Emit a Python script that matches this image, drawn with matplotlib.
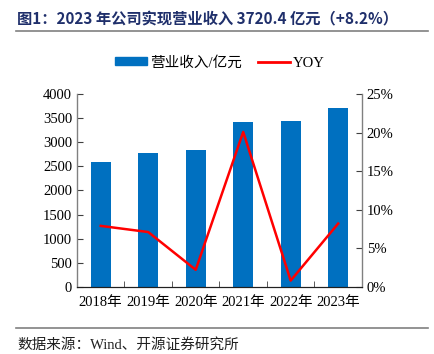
import matplotlib
matplotlib.use("Agg")
import matplotlib.pyplot as plt
from matplotlib.lines import Line2D

years = ["2018年", "2019年", "2020年", "2021年", "2022年", "2023年"]
revenue = [2596.6, 2782.2, 2842.2, 3412.3, 3439.2, 3720.4]
yoy = [7.9, 7.1, 2.2, 20.1, 0.8, 8.2]

SERIF = ["Liberation Serif", "Noto Sans CJK SC"]
CJK = ["Noto Sans CJK SC", "DejaVu Sans"]
BLUE = "#0070C0"
NAVY = "#1F2F6B"

fig = plt.figure(figsize=(4.35, 3.54), dpi=100)
ax = fig.add_axes([0.177, 0.190, 0.655, 0.544])
ax2 = ax.twinx()

x = range(len(years))
ax.bar(x, revenue, width=0.42, color=BLUE, zorder=2)
ax2.plot(x, yoy, color="#FF0000", lw=1.8, zorder=3)

ax.set_xlim(-0.5, 5.5)
ax.set_ylim(0, 4000)
ax.set_yticks(range(0, 4001, 500))
ax2.set_ylim(0, 25)
ax2.set_yticks(range(0, 26, 5))
ax2.set_yticklabels([f"{v}%" for v in range(0, 26, 5)])
ax.set_xticks(list(x))
ax.set_xticklabels(years)
ax.set_xticks([i - 0.5 for i in range(len(years) + 1)], minor=True)

for a in (ax, ax2):
    a.spines["top"].set_visible(False)
    for s in ("left", "right"):
        a.spines[s].set_color("#808080")
        a.spines[s].set_linewidth(1.0)
    a.spines["bottom"].set_color("#202020")
    a.tick_params(axis="y", direction="in", length=4, color="#404040", labelsize=10.5)
    for lab in a.get_yticklabels():
        lab.set_family(SERIF)
ax.tick_params(axis="x", which="major", length=0, labelsize=10.5, pad=7)
ax.tick_params(axis="x", which="minor", direction="in", length=4, color="#404040")
for lab in ax.get_xticklabels():
    lab.set_family(SERIF)
ax2.spines["left"].set_visible(False)
ax.spines["right"].set_visible(False)

handles = [plt.Rectangle((0, 0), 1, 1, color=BLUE),
           Line2D([0], [0], color="#FF0000", lw=2)]
leg = fig.legend(handles, ["营业收入/亿元", "YOY"], loc="center",
                 bbox_to_anchor=(0.506, 0.823), ncol=2, frameon=False,
                 handlelength=2.2, handleheight=0.5, handletextpad=0.2,
                 columnspacing=1.1, prop={"family": SERIF, "size": 10.5})

fig.text(0.04, 0.945, "图1：2023 年公司实现营业收入 3720.4 亿元（+8.2%）",
         family=CJK, fontsize=11, fontweight="bold", color=NAVY, va="center")
fig.add_artist(Line2D([0.037, 0.985], [0.912, 0.912], color="#808080", lw=1.2))
fig.add_artist(Line2D([0.037, 0.985], [0.073, 0.073], color="#808080", lw=1.2))
fig.text(0.04, 0.025, "数据来源：Wind、开源证券研究所", family=SERIF,
         fontsize=10.5, color="#202020", va="center")

fig.savefig("out.png", dpi=100)
